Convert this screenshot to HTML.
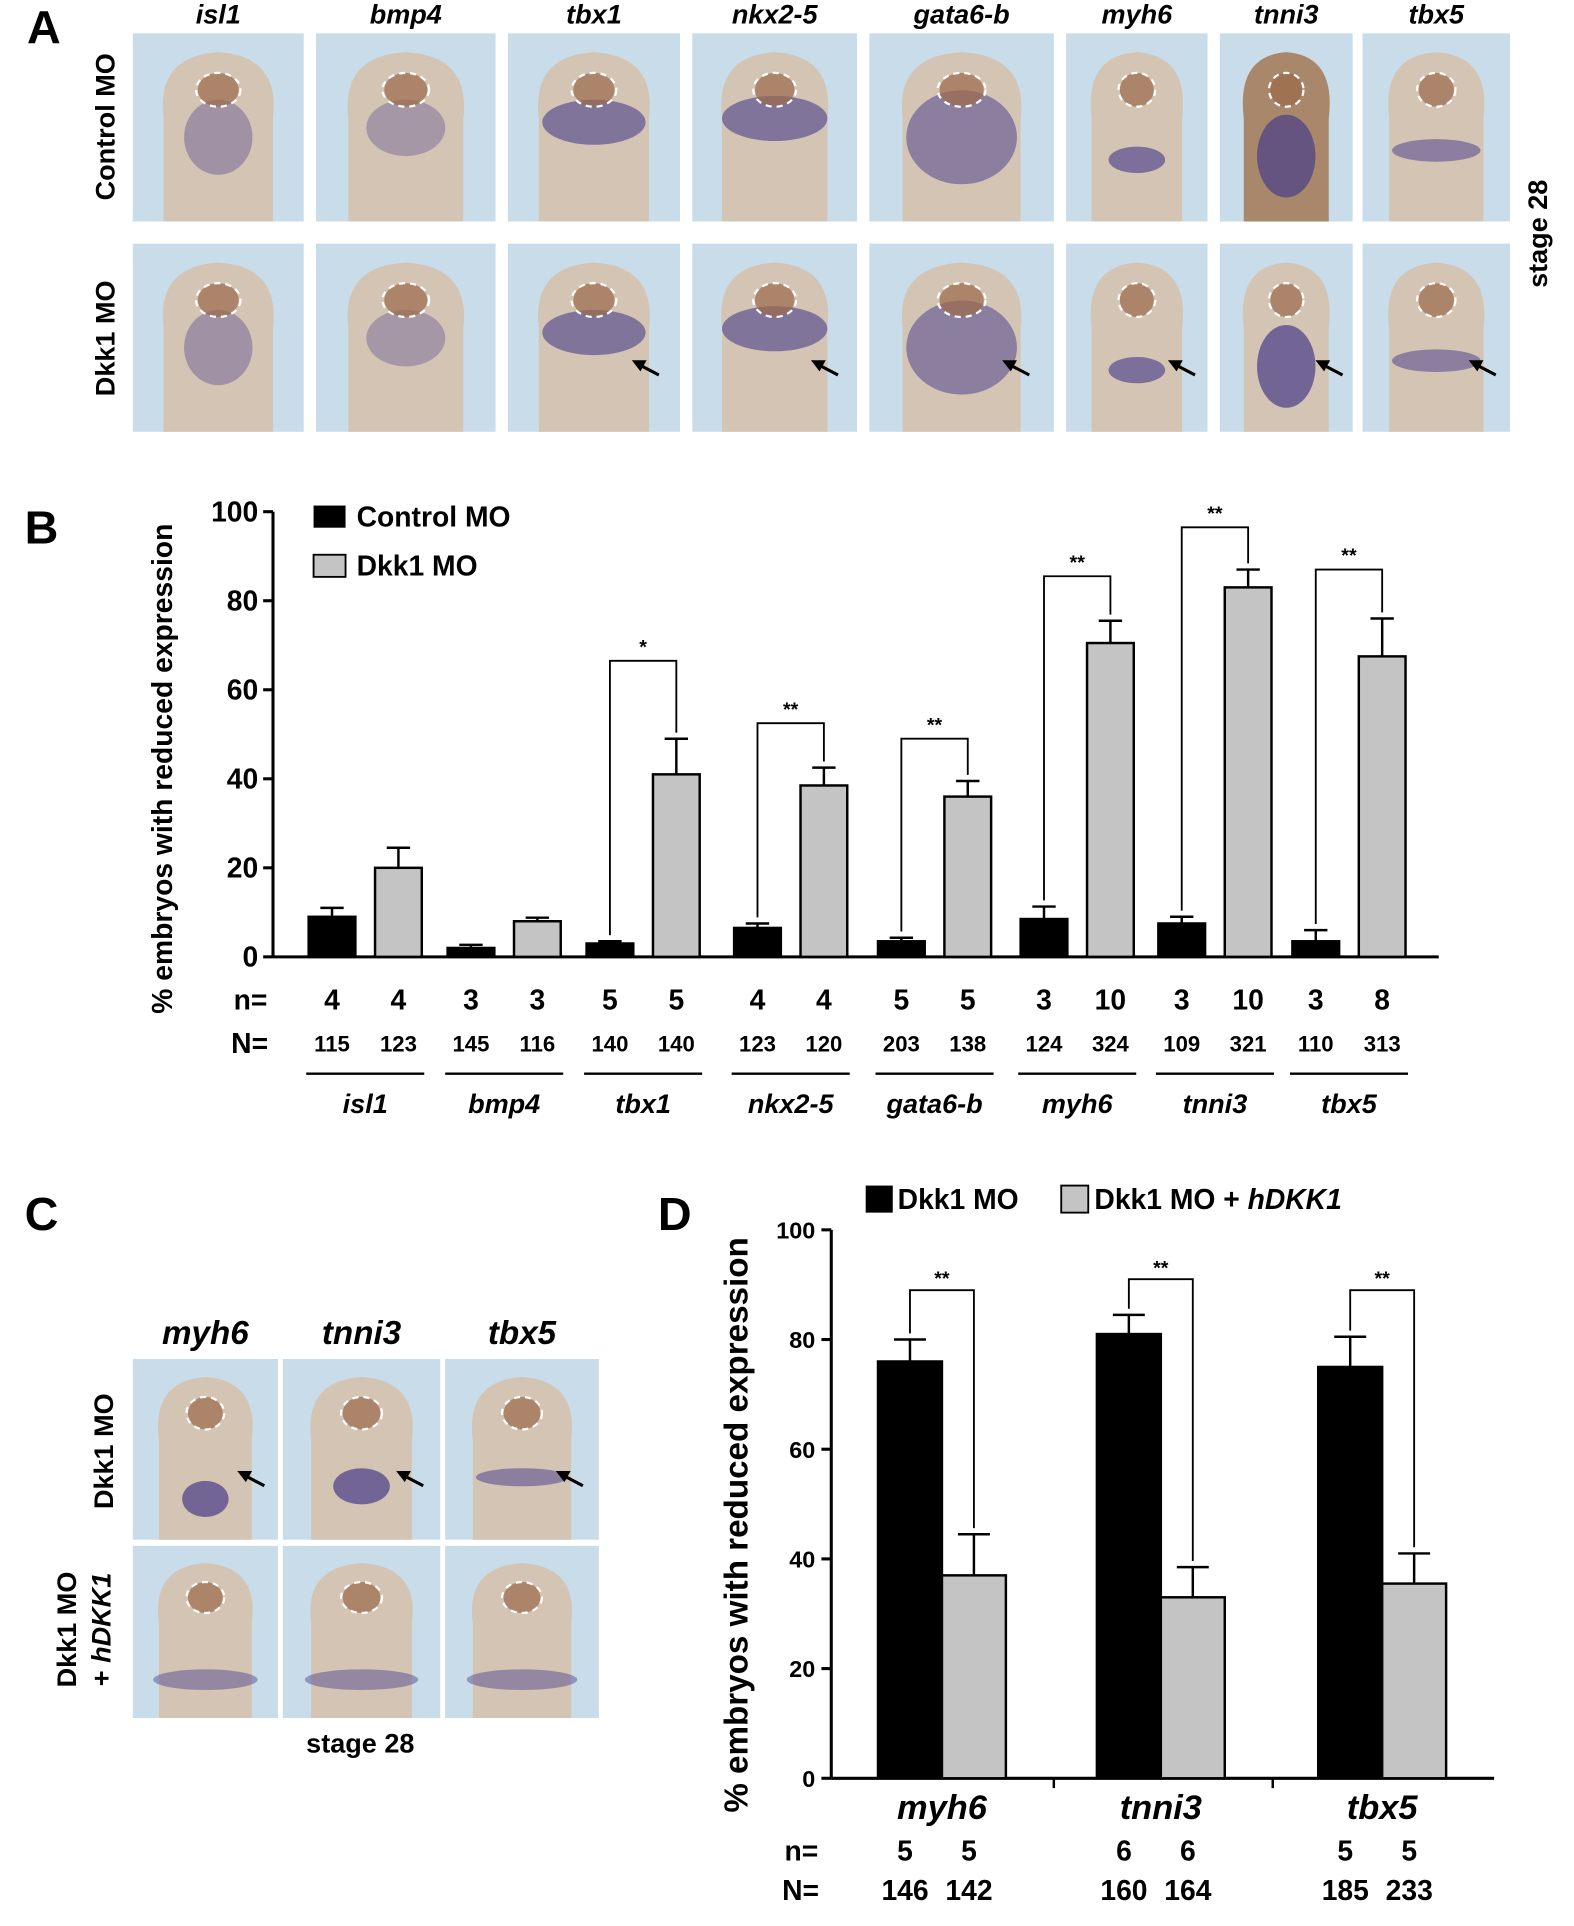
<!DOCTYPE html>
<html><head><meta charset="utf-8">
<style>
html,body{margin:0;padding:0;background:#fff;}
svg{display:block;font-family:"Liberation Sans",Arial,sans-serif;}
</style></head>
<body>
<svg id="fig" width="1574" height="1926" viewBox="0 0 1280 1566" xmlns="http://www.w3.org/2000/svg">
<g id="panelA"></g>
<g id="panelB"></g>
<g id="panelC"></g>
<g id="panelD"></g>
</svg>
<script>
// ===== Panel B data =====
const bGenes = ["isl1","bmp4","tbx1","nkx2-5","gata6-b","myh6","tnni3","tbx5"];
const bControl = [9, 2, 3, 6.5, 3.5, 8.5, 7.5, 3.5];
const bControlErr = [2, 0.7, 0.5, 1, 0.8, 2.8, 1.5, 2.5];
const bDkk1 = [20, 8, 41, 38.5, 36, 70.5, 83, 67.5];
const bDkk1Err = [4.5, 0.8, 8, 4, 3.5, 5, 4, 8.5];
const bSig = ["", "", "*", "**", "**", "**", "**", "**"];
const bSigLevel = [0, 0, 66.5, 52.5, 49, 85.5, 96.5, 87];
const bNsmall = [[4,4],[3,3],[5,5],[4,4],[5,5],[3,10],[3,10],[3,8]];
const bNbig = [[115,123],[145,116],[140,140],[123,120],[203,138],[124,324],[109,321],[110,313]];
const bTicks = [0,20,40,60,80,100];
// ===== Panel D data =====
const dGenes = ["myh6","tnni3","tbx5"];
const dDkk1 = [76, 81, 75];
const dDkk1Err = [4, 3.5, 5.5];
const dRescue = [37, 33, 35.5];
const dRescueErr = [7.5, 5.5, 5.5];
const dSigLevel = [89, 91, 89];
const dNsmall = [[5,5],[6,6],[5,5]];
const dNbig = [[146,142],[160,164],[185,233]];
const dTicks = [0,20,40,60,80,100];

const NS="http://www.w3.org/2000/svg";
function mk(parent, tag, attrs, text){
  const e=document.createElementNS(NS,tag);
  for(const k in attrs) e.setAttribute(k,attrs[k]);
  if(text!==undefined) e.textContent=text;
  parent.appendChild(e); return e;
}

// ===== Panel A (images) =====
const A=document.getElementById('panelA');
const aGenes=["isl1","bmp4","tbx1","nkx2-5","gata6-b","myh6","tnni3","tbx5"];
const aCols=[[108,247],[257,403],[413,553],[563,697],[707,857],[867,982],[992,1100],[1108,1228]];
const blobs=[[0.5,0.5,0.2,0.2,0.5],[0.5,0.45,0.22,0.15,0.45],[0.5,0.42,0.3,0.12,0.8],[0.5,0.4,0.32,0.12,0.8],[0.5,0.5,0.3,0.25,0.7],[0.5,0.62,0.2,0.07,0.85],[0.5,0.6,0.22,0.22,0.95],[0.5,0.57,0.3,0.06,0.7]];
function embryo(g,x0,x1,y0,y1,blob,name,arrow,dark){
  const r=mk(g,'rect',{x:x0,y:y0,width:x1-x0,height:y1-y0,fill:'#c9dcea'});
  
  
  const w=x1-x0,h=y1-y0,cx=(x0+x1)/2;
  const bw=w*0.32;
  mk(g,'path',{d:`M${cx-bw},${y1} L${cx-bw},${y0+h*0.45} Q${cx-bw-6},${y0+h*0.12} ${cx},${y0+h*0.1} Q${cx+bw+6},${y0+h*0.12} ${cx+bw},${y0+h*0.45} L${cx+bw},${y1} Z`,fill:dark?'#a8876a':'#d4c4b4'});
  mk(g,'ellipse',{cx:cx,cy:y0+h*blob[1]+8,rx:w*blob[2],ry:h*blob[3],fill:'#4a3f8a',opacity:blob[4]*0.75});
  mk(g,'ellipse',{cx:cx,cy:y0+h*0.3,rx:w*0.12,ry:h*0.09,fill:'#9b6a4a',opacity:0.7});
  mk(g,'ellipse',{cx:cx,cy:y0+h*0.3,rx:w*0.13,ry:h*0.09,fill:'none',stroke:'#fff','stroke-width':1.8,'stroke-dasharray':'5,4'});
  if(arrow){
    const ax=cx+w*0.22, ay=y0+h*0.62;
    mk(g,'line',{x1:ax+22,y1:ay+12,x2:ax+3,y2:ay+2,stroke:'#000','stroke-width':2.5});
    mk(g,'path',{d:`M${ax},${ay} l12,0 l-5,9 z`,fill:'#000'});
  }
}
aGenes.forEach((gn,i)=>{
  const [x0,x1]=aCols[i];
  const t=mk(A,'text',{x:(x0+x1)/2,y:19,'text-anchor':'middle','font-size':22,'font-weight':'bold','font-style':'italic'},gn);
  
  
  embryo(A,x0,x1,27,180,blobs[i],'control-image-'+gn,false,i==6);
  embryo(A,x0,x1,198,351,blobs[i],'dkk1-image-'+gn,i>=2,false);
});
mk(A,'text',{x:22,y:35,'font-size':38,'font-weight':'bold'},'A');
mk(A,'text',{transform:'translate(93,103) rotate(-90)','text-anchor':'middle','font-size':22,'font-weight':'bold'},'Control MO');
mk(A,'text',{transform:'translate(93,275) rotate(-90)','text-anchor':'middle','font-size':22,'font-weight':'bold'},'Dkk1 MO');
mk(A,'text',{transform:'translate(1258,190) rotate(-90)','text-anchor':'middle','font-size':22,'font-weight':'bold'},'stage 28');

// ===== Panel B chart =====
const B=document.getElementById('panelB');
const bx0=222,bx1=1170,by0=778,by100=416;
const byS=v=>by0-(by100-by0)*-v/100;
const bCenters=[297,410,523,643,760,876,988,1097];
const bBarW=38, bOff=27;
mk(B,'text',{x:20,y:442,'font-size':38,'font-weight':'bold'},'B');
mk(B,'line',{x1:bx0,y1:by100,x2:bx0,y2:by0,stroke:'#000','stroke-width':2.5});
mk(B,'line',{x1:bx0,y1:by0,x2:bx1,y2:by0,stroke:'#000','stroke-width':2.5});
bTicks.forEach(t=>{
  mk(B,'line',{x1:bx0-8,y1:byS(t),x2:bx0,y2:byS(t),stroke:'#000','stroke-width':2.5});
  const tl=mk(B,'text',{x:bx0-12,y:byS(t)+8,'text-anchor':'end','font-size':23,'font-weight':'bold'},t);
  
  
});
mk(B,'text',{transform:'translate(140,625) rotate(-90)','text-anchor':'middle','font-size':23,'font-weight':'bold'},'% embryos with reduced expression');
function bar(g,cx,w,v,err,fill,yS,name){
  const r=mk(g,'rect',{x:cx-w/2,y:yS(v),width:w,height:yS(0)-yS(v),fill:fill,stroke:'#000','stroke-width':2});
  
  
  mk(g,'line',{x1:cx,y1:yS(v),x2:cx,y2:yS(v+err),stroke:'#000','stroke-width':2});
  mk(g,'line',{x1:cx-w/4,y1:yS(v+err),x2:cx+w/4,y2:yS(v+err),stroke:'#000','stroke-width':2});
}
bGenes.forEach((gn,i)=>{
  const c=bCenters[i], xc=c-bOff, xd=c+bOff;
  bar(B,xc,bBarW,bControl[i],bControlErr[i],'#000',byS,'bar-control-'+gn);
  bar(B,xd,bBarW,bDkk1[i],bDkk1Err[i],'#c4c4c4',byS,'bar-dkk1-'+gn);
  if(bSig[i]){
    const yb=byS(bSigLevel[i]);
    mk(B,'path',{d:`M${xc},${byS(bControl[i]+bControlErr[i])-5} V${yb} H${xd} V${byS(bDkk1[i]+bDkk1Err[i])-5}`,fill:'none',stroke:'#000','stroke-width':1.5});
    mk(B,'text',{x:c,y:yb-6,'text-anchor':'middle','font-size':16,'font-weight':'bold'},bSig[i]);
  }
  mk(B,'text',{x:xc,y:821,'text-anchor':'middle','font-size':23,'font-weight':'bold'},bNsmall[i][0]);
  mk(B,'text',{x:xd,y:821,'text-anchor':'middle','font-size':23,'font-weight':'bold'},bNsmall[i][1]);
  mk(B,'text',{x:xc,y:855,'text-anchor':'middle','font-size':18,'font-weight':'bold'},bNbig[i][0]);
  mk(B,'text',{x:xd,y:855,'text-anchor':'middle','font-size':18,'font-weight':'bold'},bNbig[i][1]);
  mk(B,'line',{x1:c-48,y1:873,x2:c+48,y2:873,stroke:'#000','stroke-width':2});
  const gl=mk(B,'text',{x:c,y:905,'text-anchor':'middle','font-size':22,'font-weight':'bold','font-style':'italic'},gn);
  
  
});
mk(B,'text',{x:190,y:821,'font-size':23,'font-weight':'bold'},'n=');
mk(B,'text',{x:188,y:856,'font-size':23,'font-weight':'bold'},'N=');
mk(B,'rect',{x:255,y:411,width:26,height:18,fill:'#000'});
mk(B,'text',{x:290,y:428,'font-size':23,'font-weight':'bold'},'Control MO');
mk(B,'rect',{x:255,y:451,width:26,height:18,fill:'#c4c4c4',stroke:'#000','stroke-width':1.5});
mk(B,'text',{x:290,y:468,'font-size':23,'font-weight':'bold'},'Dkk1 MO');

// ===== Panel C =====
const C=document.getElementById('panelC');
mk(C,'text',{x:20,y:1000,'font-size':38,'font-weight':'bold'},'C');
const cGenes=["myh6","tnni3","tbx5"];
const cCols=[[108,226],[230,358],[362,487]];
const cBlobs=[[0.5,0.72,0.16,0.1,0.95],[0.5,0.65,0.18,0.1,0.95],[0.5,0.6,0.3,0.05,0.7]];
cGenes.forEach((gn,i)=>{
  const [x0,x1]=cCols[i];
  mk(C,'text',{x:(x0+x1)/2,y:1093,'text-anchor':'middle','font-size':27,'font-weight':'bold','font-style':'italic'},gn);
  embryo(C,x0,x1,1105,1252,cBlobs[i],'c-dkk1-image-'+gn,true,false);
  embryo(C,x0,x1,1257,1397,[0.5,0.72,0.36,0.06,0.6],'c-rescue-image-'+gn,false,false);
});
mk(C,'text',{transform:'translate(92,1180) rotate(-90)','text-anchor':'middle','font-size':22,'font-weight':'bold'},'Dkk1 MO');
mk(C,'text',{transform:'translate(62,1325) rotate(-90)','text-anchor':'middle','font-size':22,'font-weight':'bold'},'Dkk1 MO');
const cl=mk(C,'text',{transform:'translate(90,1325) rotate(-90)','text-anchor':'middle','font-size':22,'font-weight':'bold'},'+ ');
mk(cl,'tspan',{'font-style':'italic'},'hDKK1');
mk(C,'text',{x:293,y:1425,'text-anchor':'middle','font-size':22,'font-weight':'bold'},'stage 28');

// ===== Panel D chart =====
const D=document.getElementById('panelD');
const dx0=676,dx1=1215,dy0=1446,dy100=1000;
const dyS=v=>dy0-(dy0-dy100)*v/100;
const dCenters=[766,944,1124];
const dBarW=52;
mk(D,'text',{x:535,y:1000,'font-size':38,'font-weight':'bold'},'D');
mk(D,'line',{x1:dx0,y1:dy100,x2:dx0,y2:dy0,stroke:'#000','stroke-width':2.5});
mk(D,'line',{x1:dx0,y1:dy0,x2:dx1,y2:dy0,stroke:'#000','stroke-width':2.5});
[857,1035].forEach(x=>mk(D,'line',{x1:x,y1:dy0,x2:x,y2:dy0+8,stroke:'#000','stroke-width':2}));
dTicks.forEach(t=>{
  mk(D,'line',{x1:dx0-8,y1:dyS(t),x2:dx0,y2:dyS(t),stroke:'#000','stroke-width':2.5});
  const tl=mk(D,'text',{x:dx0-13,y:dyS(t)+7,'text-anchor':'end','font-size':19,'font-weight':'bold'},t);
  
  
});
mk(D,'text',{transform:'translate(608,1240) rotate(-90)','text-anchor':'middle','font-size':27,'font-weight':'bold'},'% embryos with reduced expression');
dGenes.forEach((gn,i)=>{
  const c=dCenters[i], xa=c-dBarW/2, xb=c+dBarW/2;
  bar(D,xa,dBarW,dDkk1[i],dDkk1Err[i],'#000',dyS,'d-bar-dkk1-'+gn);
  bar(D,xb,dBarW,dRescue[i],dRescueErr[i],'#c4c4c4',dyS,'d-bar-rescue-'+gn);
  const yb=dyS(dSigLevel[i]);
  mk(D,'path',{d:`M${xa},${dyS(dDkk1[i]+dDkk1Err[i])-5} V${yb} H${xb} V${dyS(dRescue[i]+dRescueErr[i])-5}`,fill:'none',stroke:'#000','stroke-width':1.5});
  mk(D,'text',{x:c,y:yb-4,'text-anchor':'middle','font-size':16,'font-weight':'bold'},'**');
  const gl=mk(D,'text',{x:c,y:1479,'text-anchor':'middle','font-size':28,'font-weight':'bold','font-style':'italic'},gn);
  
  
  mk(D,'text',{x:xa-4,y:1513,'text-anchor':'middle','font-size':23,'font-weight':'bold'},dNsmall[i][0]);
  mk(D,'text',{x:xb-4,y:1513,'text-anchor':'middle','font-size':23,'font-weight':'bold'},dNsmall[i][1]);
  mk(D,'text',{x:xa-4,y:1545,'text-anchor':'middle','font-size':23,'font-weight':'bold'},dNbig[i][0]);
  mk(D,'text',{x:xb-4,y:1545,'text-anchor':'middle','font-size':23,'font-weight':'bold'},dNbig[i][1]);
});
mk(D,'text',{x:638,y:1513,'font-size':23,'font-weight':'bold'},'n=');
mk(D,'text',{x:636,y:1545,'font-size':23,'font-weight':'bold'},'N=');
mk(D,'rect',{x:704,y:964,width:22,height:22,fill:'#000'});
mk(D,'text',{x:730,y:983,'font-size':23,'font-weight':'bold'},'Dkk1 MO');
mk(D,'rect',{x:863,y:964,width:22,height:22,fill:'#c4c4c4',stroke:'#000','stroke-width':1.5});
const dl=mk(D,'text',{x:890,y:983,'font-size':23,'font-weight':'bold'},'Dkk1 MO + ');
mk(dl,'tspan',{'font-style':'italic'},'hDKK1');
</script>
</body></html>
